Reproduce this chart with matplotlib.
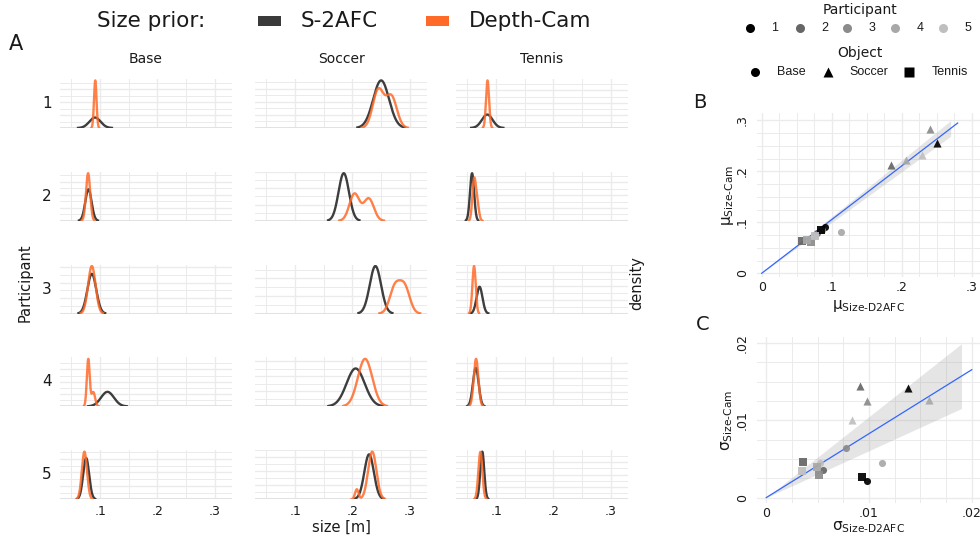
"""Size-prior posteriors per participant and object, with cross-method agreement.

Left: posterior densities of the size prior (S-2AFC vs Depth-Cam) for each
participant x object.  Right: posterior means (B) and SDs (C) of the two
methods against each other, with a through-origin linear fit.
"""

import matplotlib.pyplot as plt
import numpy as np
from matplotlib import patches
from matplotlib.ticker import AutoMinorLocator, MaxNLocator, MultipleLocator

W, H = 980, 537

OBJECTS = ["Base", "Soccer", "Tennis"]
PARTICIPANTS = [1, 2, 3, 4, 5]

# posterior means, rows = object, columns = participant
MU_S2AFC = [
    [0.0910, 0.0796, 0.0855, 0.1128, 0.0756],
    [0.2500, 0.1848, 0.2400, 0.2055, 0.2290],
    [0.0845, 0.0580, 0.0710, 0.0645, 0.0758],
]
MU_CAM = [
    [0.0915, 0.0790, 0.0855, 0.0817, 0.0726],
    [0.2555, 0.2124, 0.2825, 0.2220, 0.2320],
    [0.0850, 0.0630, 0.0615, 0.0650, 0.0725],
]
# posterior standard deviations
SD_S2AFC = [
    [0.00982, 0.00548, 0.00775, 0.01125, 0.00519],
    [0.01380, 0.00910, 0.00985, 0.01580, 0.00830],
    [0.00934, 0.00357, 0.00512, 0.00493, 0.00344],
]
SD_CAM = [
    [0.00216, 0.00363, 0.00648, 0.00445, 0.00449],
    [0.01425, 0.01447, 0.01253, 0.01260, 0.01006],
    [0.00264, 0.00458, 0.00289, 0.00400, 0.00346],
]

# Depth-Cam posteriors that are not single-peaked: (mean, sd, weight)
CAM_MIXTURES = {
    ("Base", 4): [(0.0793, 0.0025, 0.72), (0.0880, 0.0032, 0.28)],
    ("Soccer", 1): [(0.2450, 0.0095, 0.55), (0.2680, 0.0095, 0.45)],
    ("Soccer", 2): [(0.2035, 0.0088, 0.55), (0.2285, 0.0088, 0.45)],
    ("Soccer", 3): [(0.2740, 0.0090, 0.50), (0.2910, 0.0090, 0.50)],
    ("Soccer", 5): [(0.2075, 0.0030, 0.08), (0.2345, 0.0072, 0.92)],
    ("Tennis", 2): [(0.0615, 0.0030, 0.70), (0.0670, 0.0030, 0.30)],
}

SIZE_TICKS = [0.1, 0.2, 0.3]
SIZE_TICK_LABELS = [".1", ".2", ".3"]
MU_TICKS = [0, 0.1, 0.2, 0.3]
MU_TICK_LABELS = ["0", ".1", ".2", ".3"]
SD_TICKS = [0, 0.01, 0.02]
SD_TICK_LABELS = ["0", ".01", ".02"]

T_975_DF14 = 2.145  # t quantile for the 95% band, n - 1 = 14

COL_S2AFC = "#333333"
COL_CAM = "#FF6A28"
GREYS = ["#000000", "#666666", "#8B8B8B", "#A8A8A8", "#BFBFBF"]
MARKERS = {"Base": "o", "Soccer": "^", "Tennis": "s"}
MARKER_SIZE = {"Base": 26, "Soccer": 34, "Tennis": 26}
GRID = "#EBEBEB"
TEXT = "#1A1A1A"

# panel A geometry (pixels)
COL_LEFT = [60, 255, 456]
COL_W = 172
ROW_TOP = [79 + 92.8 * r for r in range(5)]
ROW_H = 49
SIZE_LIM = (0.03, 0.33)

plt.rcParams.update({
    "font.family": "DejaVu Sans",
    "font.size": 9,
    "text.color": TEXT,
    "axes.linewidth": 0,
})


def px_axes(fig, left, top, width, height):
    return fig.add_axes([left / W, 1 - (top + height) / H, width / W, height / H])


def mixture_pdf(x, parts):
    y = np.zeros_like(x)
    for m, s, w in parts:
        y += w * np.exp(-0.5 * ((x - m) / s) ** 2) / (s * np.sqrt(2 * np.pi))
    return y


def curve(parts):
    lo = min(m - 3 * s for m, s, _ in parts)
    hi = max(m + 3 * s for m, s, _ in parts)
    x = np.linspace(lo, hi, 400)
    return x, mixture_pdf(x, parts)


def style_density_axes(ax, ymax, bottom_row):
    ax.set_xlim(*SIZE_LIM)
    ax.set_ylim(0, ymax * 1.03)
    ax.xaxis.set_major_locator(MultipleLocator(0.1))
    ax.xaxis.set_minor_locator(MultipleLocator(0.05))
    ax.yaxis.set_major_locator(MaxNLocator(4))
    ax.yaxis.set_minor_locator(AutoMinorLocator(2))
    ax.grid(which="major", color=GRID, lw=1.0)
    ax.grid(which="minor", color=GRID, lw=0.7)
    ax.set_axisbelow(True)
    ax.axhline(0, color="#E2E2E2", lw=2.2, zorder=1)
    ax.tick_params(which="both", length=0)
    ax.set_yticklabels([])
    if bottom_row:
        ax.set_xticks(SIZE_TICKS)
        ax.set_xticklabels(SIZE_TICK_LABELS, fontsize=9, color=TEXT)
        ax.tick_params(axis="x", pad=4)
    else:
        ax.set_xticklabels([])
    for sp in ax.spines.values():
        sp.set_visible(False)


def draw_densities(fig):
    for i, obj in enumerate(OBJECTS):
        for j, p in enumerate(PARTICIPANTS):
            ax = px_axes(fig, COL_LEFT[i], ROW_TOP[j], COL_W, ROW_H)
            x1, y1 = curve([(MU_S2AFC[i][j], SD_S2AFC[i][j], 1.0)])
            cam_parts = CAM_MIXTURES.get((obj, p), [(MU_CAM[i][j], SD_CAM[i][j], 1.0)])
            x2, y2 = curve(cam_parts)
            ax.plot(x1, y1, color=COL_S2AFC, lw=1.7, alpha=0.95, zorder=3)
            ax.plot(x2, y2, color=COL_CAM, lw=1.7, alpha=0.85, zorder=4)
            style_density_axes(ax, max(y1.max(), y2.max()), j == len(PARTICIPANTS) - 1)


def through_origin_fit(x, y):
    x = np.asarray(x)
    y = np.asarray(y)
    slope = np.sum(x * y) / np.sum(x * x)
    resid = y - slope * x
    s2 = np.sum(resid ** 2) / (len(x) - 1)
    se = np.sqrt(s2 / np.sum(x * x))
    return slope, se


def draw_scatter(ax, xs, ys, xlim, ylim, ticks, labels, line_end, band_end, minor):
    flat_x = np.ravel(xs)
    flat_y = np.ravel(ys)
    slope, se = through_origin_fit(flat_x, flat_y)
    xb = np.linspace(0, band_end, 100)
    ax.fill_between(xb, slope * xb - T_975_DF14 * se * xb, slope * xb + T_975_DF14 * se * xb,
                    color="#999999", alpha=0.25, lw=0, zorder=2)
    xl = np.array([0, line_end])
    ax.plot(xl, slope * xl, color="#3366FF", lw=0.9, zorder=3)

    for i, obj in enumerate(OBJECTS):
        for j in range(len(PARTICIPANTS)):
            ax.scatter(xs[i][j], ys[i][j], s=MARKER_SIZE[obj], marker=MARKERS[obj],
                       color=GREYS[j], lw=0, alpha=0.92, zorder=4)

    ax.set_xlim(*xlim)
    ax.set_ylim(*ylim)
    ax.xaxis.set_major_locator(MultipleLocator(minor))
    ax.yaxis.set_major_locator(MultipleLocator(minor))
    ax.xaxis.set_minor_locator(MultipleLocator(minor / 2))
    ax.yaxis.set_minor_locator(MultipleLocator(minor / 2))
    ax.grid(which="major", color=GRID, lw=1.0)
    ax.grid(which="minor", color=GRID, lw=0.7)
    ax.set_axisbelow(True)
    ax.set_xticks(ticks)
    ax.set_xticklabels(labels, fontsize=9, color=TEXT)
    ax.set_yticks(ticks)
    ax.set_yticklabels(labels, fontsize=9, color=TEXT, rotation=90, va="center")
    ax.tick_params(which="both", length=0)
    ax.tick_params(axis="x", pad=3)
    ax.tick_params(axis="y", pad=6)
    for sp in ax.spines.values():
        sp.set_visible(False)


def main():
    fig = plt.figure(figsize=(W / 100, H / 100), dpi=100)

    draw_densities(fig)

    ax_b = px_axes(fig, 757, 113, 223, 164)
    draw_scatter(ax_b, MU_S2AFC, MU_CAM, (-0.0067, 0.3119), (-0.0073, 0.3143),
                 MU_TICKS, MU_TICK_LABELS, 0.28, 0.27, 0.05)
    ax_c = px_axes(fig, 757, 337, 223, 166)
    draw_scatter(ax_c, SD_S2AFC, SD_CAM, (-0.0009, 0.0208), (-0.0007, 0.0208),
                 SD_TICKS, SD_TICK_LABELS, 0.02, 0.019, 0.005)

    # text layer in pixel coordinates
    ov = fig.add_axes([0, 0, 1, 1], zorder=10)
    ov.set_xlim(0, W)
    ov.set_ylim(H, 0)
    ov.axis("off")

    ov.text(16, 44, "A", fontsize=15, ha="center", va="center")
    ov.text(700, 103, "B", fontsize=14, ha="center", va="center")
    ov.text(703, 325, "C", fontsize=14, ha="center", va="center")

    # size-prior legend
    ov.text(97, 21, "Size prior:", fontsize=15.5, ha="left", va="center")
    ov.add_patch(patches.Rectangle((258, 16), 23, 10, color="#3A3A3A", lw=0))
    ov.text(301, 21, "S-2AFC", fontsize=15.5, ha="left", va="center")
    ov.add_patch(patches.Rectangle((426, 16), 23, 10, color="#FF6A28", lw=0))
    ov.text(469, 21, "Depth-Cam", fontsize=15.5, ha="left", va="center")

    # facet strips
    for i, obj in enumerate(OBJECTS):
        ov.text(COL_LEFT[i] + COL_W / 2, 59, obj, fontsize=10, ha="center", va="center")
    for j, p in enumerate(PARTICIPANTS):
        ov.text(47, ROW_TOP[j] + ROW_H / 2, str(p), fontsize=11, ha="center", va="center")
    ov.text(25, 283, "Participant", fontsize=10.5, rotation=90, ha="center", va="center")
    ov.text(637, 283, "density", fontsize=10.5, rotation=90, ha="center", va="center")
    ov.text(COL_LEFT[1] + COL_W / 2, 527, "size [m]", fontsize=10.5, ha="center", va="center")

    # participant / object legends
    ov.text(860, 10, "Participant", fontsize=10, ha="center", va="center")
    leg_x = [750, 800, 847, 895, 943]
    for j, p in enumerate(PARTICIPANTS):
        ov.plot(leg_x[j], 28, marker="o", ms=6.5, color=GREYS[j], mec="none")
        ov.text(leg_x[j] + 25, 28, str(p), fontsize=9, ha="center", va="center",
                family="Liberation Sans")
    ov.text(860, 53, "Object", fontsize=10, ha="center", va="center")
    obj_marker_x = [755, 828, 909]
    obj_label_x = [777, 849, 932]
    for i, obj in enumerate(OBJECTS):
        ov.plot(obj_marker_x[i], 72, marker=MARKERS[obj], ms=6.5 if obj != "Soccer" else 7,
                color="black", mec="none")
        ov.text(obj_label_x[i], 72, obj, fontsize=9, ha="left", va="center",
                family="Liberation Sans")

    # axis titles for B and C
    ov.text(728, 195, r"$\mathrm{\mu}_{\mathrm{Size‐Cam}}$", fontsize=11, rotation=90,
            ha="center", va="center")
    ov.text(868, 306, r"$\mathrm{\mu}_{\mathrm{Size‐D2AFC}}$", fontsize=11,
            ha="center", va="center")
    ov.text(727, 420, r"$\mathrm{\sigma}_{\mathrm{Size‐Cam}}$", fontsize=11, rotation=90,
            ha="center", va="center")
    ov.text(868, 527, r"$\mathrm{\sigma}_{\mathrm{Size‐D2AFC}}$", fontsize=11,
            ha="center", va="center")

    fig.savefig("out.png", dpi=100)
    plt.close(fig)


if __name__ == "__main__":
    main()
